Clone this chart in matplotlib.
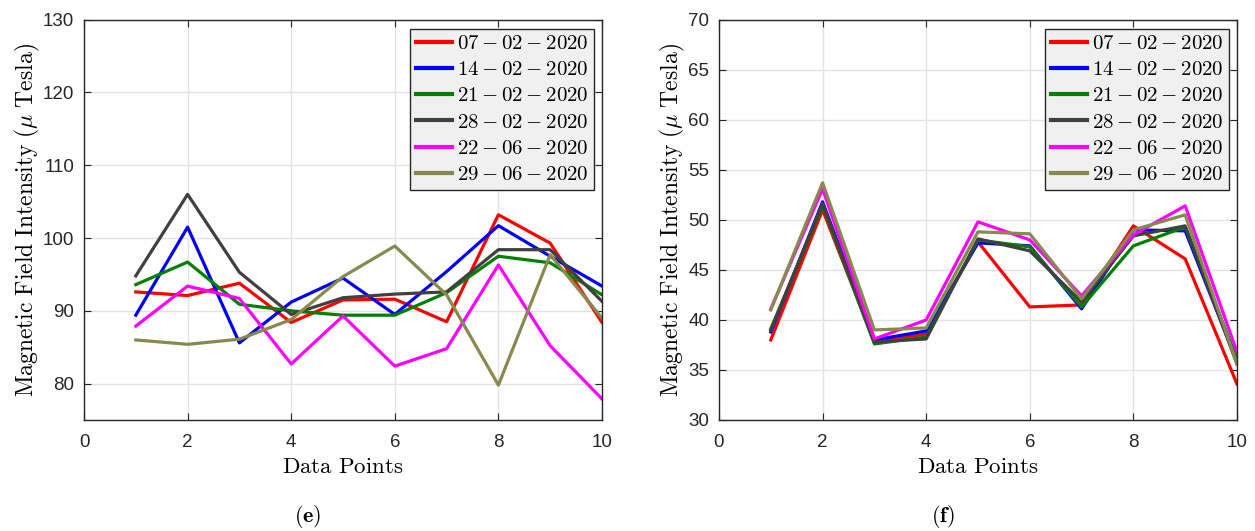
import numpy as np
import matplotlib.pyplot as plt

plt.rcParams['mathtext.fontset'] = 'cm'
plt.rcParams['font.family'] = ['Liberation Sans', 'DejaVu Sans']

x = np.arange(1, 11)
dates = ['07-02-2020', '14-02-2020', '21-02-2020', '28-02-2020', '22-06-2020', '29-06-2020']
colors = ['#ff0000', '#0000ff', '#008000', '#404040', '#ff00ff', '#868a4c']

# panel (e)
e_0702 = [92.6, 92.1, 93.8, 88.4, 91.5, 91.6, 88.5, 103.2, 99.3, 88.4]
e_1402 = [89.4, 101.5, 85.6, 91.2, 94.5, 89.5, 95.4, 101.7, 97.5, 93.4]
e_2102 = [93.6, 96.7, 90.9, 90.0, 89.4, 89.4, 92.5, 97.5, 96.6, 92.2]
e_2802 = [94.8, 106.0, 95.3, 89.5, 91.8, 92.3, 92.6, 98.4, 98.4, 91.3]
e_2206 = [87.9, 93.4, 91.7, 82.7, 89.3, 82.4, 84.8, 96.3, 85.2, 77.9]
e_2906 = [86.0, 85.4, 86.1, 88.8, 94.7, 98.9, 92.2, 79.8, 97.7, 89.0]

# panel (f)
f_0702 = [38.0, 51.0, 37.8, 38.6, 47.8, 41.3, 41.5, 49.4, 46.1, 33.6]
f_1402 = [38.8, 51.8, 38.0, 38.9, 47.7, 47.4, 41.1, 49.0, 48.9, 35.8]
f_2102 = [39.1, 51.4, 37.6, 38.3, 48.0, 47.3, 41.3, 47.4, 49.3, 36.1]
f_2802 = [39.0, 51.6, 37.8, 38.1, 48.1, 46.9, 41.8, 48.4, 49.4, 35.6]
f_2206 = [41.1, 53.1, 38.1, 40.0, 49.8, 48.0, 42.4, 48.5, 51.4, 36.8]
f_2906 = [41.0, 53.7, 39.0, 39.2, 48.8, 48.6, 42.1, 49.0, 50.5, 35.6]

panels = [
    ([e_0702, e_1402, e_2102, e_2802, e_2206, e_2906], (75, 130), np.arange(80, 131, 10), 'e'),
    ([f_0702, f_1402, f_2102, f_2802, f_2206, f_2906], (30, 70), np.arange(30, 71, 5), 'f'),
]

fig = plt.figure(figsize=(12.55, 5.31), dpi=100)
lefts = [84 / 1255, 719 / 1255]

for (series, ylim, yticks, cap), left in zip(panels, lefts):
    ax = fig.add_axes([left, 1 - 420 / 531, 518 / 1255, (420 - 19.7) / 531])
    for vals, c, d in zip(series, colors, dates):
        lab = '$' + d.replace('-', ' - ') + '$'
        ax.plot(x, vals, color=c, lw=2.3, label=lab)
    ax.set_xlim(0, 10)
    ax.set_ylim(*ylim)
    ax.set_xticks(np.arange(0, 11, 2))
    ax.set_yticks(yticks)
    ax.grid(True, color='#e3e3e3', lw=1)
    ax.set_axisbelow(True)
    ax.tick_params(direction='in', top=True, right=True, labelsize=13.5,
                   colors='#262626', length=5)
    ax.tick_params(axis='x', pad=10)
    ax.tick_params(axis='y', pad=7)
    for s in ax.spines.values():
        s.set_color('#262626')
        s.set_linewidth(1)
    ax.set_xlabel(r'$\mathrm{Data\ Points}$', fontsize=16.5, labelpad=3)
    ax.set_ylabel(r'$\mathrm{Magnetic\ Field\ Intensity}\ (\mu\ \mathrm{Tesla})$', fontsize=17, labelpad=1)
    leg = ax.legend(loc='upper right', bbox_to_anchor=(1 - 8 / 518, 1 - 9 / 400),
                    borderaxespad=0, fontsize=15, fancybox=False, framealpha=1,
                    labelspacing=0.35, handlelength=1.75, handletextpad=0.25,
                    borderpad=0.25)
    leg.get_frame().set_facecolor('#f0f0f0')
    leg.get_frame().set_edgecolor('#262626')
    leg.get_frame().set_linewidth(1)
    for h in leg.get_lines():
        h.set_linewidth(3)
    cx = left + 224 / 1255
    fig.text(cx, 1 - 516 / 531, r'$(\mathbf{' + cap + r'})$', ha='center', va='center', fontsize=16)

fig.savefig('out.png', dpi=100)
